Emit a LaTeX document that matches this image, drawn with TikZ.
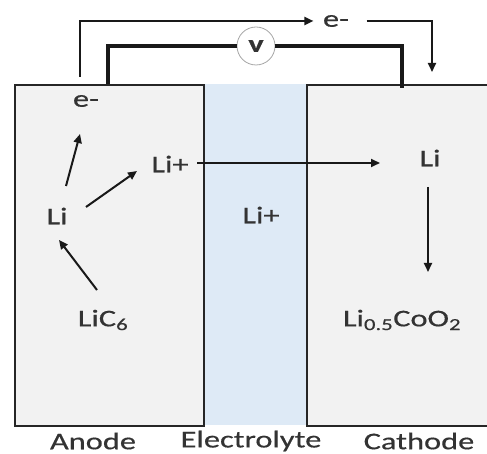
\documentclass[tikz,border=0pt]{standalone}
\usepackage{fontspec}
\setmainfont{Carlito}[FakeStretch=1.35,FakeBold=0.5]
\usepackage{tikz}
\usetikzlibrary{arrows.meta,calc,positioning}
\definecolor{cellInk}{HTML}{333333}
\definecolor{cellGrey}{HTML}{F2F2F2}
\definecolor{cellBlue}{HTML}{DEEAF6}
\definecolor{cellRing}{HTML}{A6A6A6}
\tikzset{
  cell diagram/.style={x=1pt, y=-1pt, font=\fontsize{24}{28}\selectfont,
    text=cellInk, line join=miter},
  cell box/.style={draw=black!85, fill=cellGrey, line width=2.2pt,
    inner sep=0pt, anchor=north west},
  cell gap/.style={fill=cellBlue, inner sep=0pt, anchor=north west},
  cell arrow/.style={-{Triangle[length=9pt,width=8pt]}, draw=black!90, line width=2pt},
  cell wire/.style={draw=black!90, line width=3.4pt},
  cell meter/.style={circle, draw=cellRing, fill=white, line width=0.8pt,
    minimum size=38pt, inner sep=0pt, font=\fontsize{24}{28}\selectfont\bfseries}
}
\begin{document}
\begin{tikzpicture}[cell diagram]
\useasboundingbox (0,0) rectangle (487,454);
\clip (0,0) rectangle (487,454);
% cell regions
\node[cell gap, minimum width=103pt, minimum height=341pt] (electrolyte) at (203,84) {};
\node[cell box, minimum width=189pt, minimum height=341pt] (anode) at (14,84) {};
\node[cell box, minimum width=200pt, minimum height=341pt] (cathode) at (306,84) {};
% species
\node (eA) at (86,101) {e-};
\node (liA) at (57,216) {Li};
\node (lipA) at (170,164) {Li+};
\node (lic) at (103,320) {LiC\textsubscript{6}};
\node (lipE) at (261,215) {Li+};
\node (liC) at (430,158) {Li};
\node (lco) at (402,320) {Li\textsubscript{0.5}CoO\textsubscript{2}};
\draw[cell arrow] ($(lic)+(-6,-30)$) -- ($(liA)+(2,24)$);
\draw[cell arrow] ($(liA)+(9,-30)$) -- ($(eA)+(-6,33)$);
\draw[cell arrow] ($(liA)+(29,-9)$) -- ($(lipA)+(-33,7)$);
\draw[cell arrow] ($(lipA)+(27,-1)$) -- ($(liC)+(-50,5)$);
\draw[cell arrow] ($(liC)+(-2,29)$) -- ($(lco)+(26,-48)$);
% external circuit
\node[cell meter] (volt) at (256,46) {v};
\coordinate (anTap) at (108,84);
\coordinate (caTap) at (402,88);
\draw[cell wire] (anTap) |- (volt.west);
\draw[cell wire] (volt.east) -| (caTap);
\node (eW) at (336,21) {e-};
\coordinate (eStart) at (80,77);
\coordinate (eEnd) at (432,72);
\draw[cell arrow] (eStart) |- ([xshift=-6pt]eW.west);
\draw[cell arrow] ([xshift=14pt]eW.east) -| (eEnd);
% labels
\foreach \x/\name/\txt in {93/anodeLbl/Anode,251/elecLbl/Electrolyte,419/cathLbl/Cathode}{
  \node (\name) at (\x,441) {\txt};
}
\end{tikzpicture}
\end{document}
